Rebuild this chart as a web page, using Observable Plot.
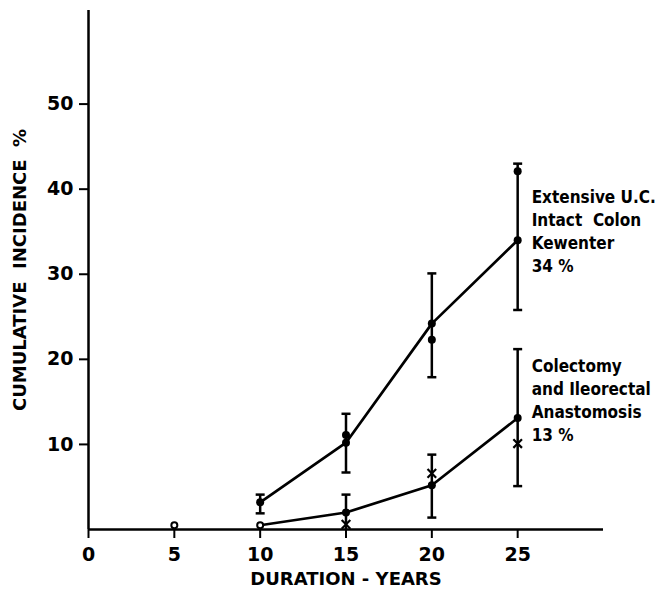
<!DOCTYPE html>
<html><head><meta charset="utf-8">
<script src="https://cdn.jsdelivr.net/npm/d3@7"></script>
<script src="https://cdn.jsdelivr.net/npm/@observablehq/plot@0.6"></script>
<style>body{margin:0;background:#fff}</style>
</head><body><div id="chart"></div>
<script>
// Extensive U.C., intact colon (Kewenter)
const intactYears = [10, 15, 20, 25];
const intactLine = [3.2, 10.2, 24.2, 34.0];
const intactLow = [1.9, 6.7, 17.9, 25.8];
const intactHigh = [4.1, 13.6, 30.1, 43.0];
const intactExtraYears = [15, 20, 25];
const intactExtra = [11.1, 22.3, 42.1];

// Colectomy and ileorectal anastomosis
const ileoYears = [10, 15, 20, 25];
const ileoLine = [0.5, 2.0, 5.2, 13.1];
const ileoBarYears = [15, 20, 25];
const ileoLow = [0, 1.4, 5.1];
const ileoHigh = [4.1, 8.8, 21.2];
const ileoDotYears = [15, 20, 25];
const ileoDots = [2.0, 5.2, 13.1];
const ileoCrossYears = [15, 20, 25];
const ileoCross = [0.6, 6.6, 10.1];
const openYears = [5, 10];
const openValues = [0.5, 0.5];

const xTicks = [0, 5, 10, 15, 20, 25];
const yTicks = [10, 20, 30, 40, 50];
const xLabel = "DURATION - YEARS";
const yLabel = "CUMULATIVE  INCIDENCE  %";
const annotations = [
  {x: 25, y: 35.2, text: "Extensive U.C.\nIntact  Colon\nKewenter\n34 %"},
  {x: 25, y: 15.3, text: "Colectomy\nand Ileorectal\nAnastomosis\n13 %"}
];

const zip = (xs, ys) => xs.map((x, i) => ({x, y: ys[i]}));
const intact = zip(intactYears, intactLine);
const intactBars = intactYears.map((x, i) => ({x, lo: intactLow[i], hi: intactHigh[i]}));
const ileo = zip(ileoYears, ileoLine);
const ileoBars = ileoBarYears.map((x, i) => ({x, lo: ileoLow[i], hi: ileoHigh[i]}));
const caps = [...intactBars, ...ileoBars].flatMap(d => [{x: d.x, y: d.lo}, {x: d.x, y: d.hi}]).filter(d => d.y > 0);
const opens = zip(openYears, openValues);

const capSymbol = {draw(ctx, size) { const r = Math.sqrt(size / Math.PI); ctx.moveTo(-r, 0); ctx.lineTo(r, 0); }};

const font = "DejaVu Sans";
const plot = Plot.plot({
  width: 658, height: 607,
  marginLeft: 88, marginRight: 55, marginTop: 10, marginBottom: 78,
  style: {fontFamily: font, fontSize: "19px", fontWeight: "bold", color: "#000", background: "#fff"},
  x: {domain: [0, 30]},
  y: {domain: [0, 61]},
  marks: [
    Plot.axisX({ticks: xTicks, tickSize: 9, tickPadding: 9, strokeWidth: 2, label: null, fontSize: 19}),
    Plot.axisY({ticks: yTicks, tickSize: 9, tickPadding: 6, strokeWidth: 2, label: null, fontSize: 19}),
    Plot.ruleX([0], {strokeWidth: 2.5}),
    Plot.ruleY([0], {strokeWidth: 2.5}),
    Plot.ruleX(opens, {x: "x", y1: 0, y2: "y", strokeWidth: 2}),
    Plot.ruleX(intactBars, {x: "x", y1: "lo", y2: "hi", strokeWidth: 2.5}),
    Plot.ruleX(ileoBars, {x: "x", y1: "lo", y2: "hi", strokeWidth: 2.5}),
    Plot.dot(caps, {x: "x", y: "y", symbol: capSymbol, r: 4.5, stroke: "#000", strokeWidth: 2.5}),
    Plot.line(intact, {x: "x", y: "y", strokeWidth: 2.7}),
    Plot.line(ileo, {x: "x", y: "y", strokeWidth: 2.7}),
    Plot.dot(intact, {x: "x", y: "y", r: 4, fill: "#000"}),
    Plot.dot(zip(intactExtraYears, intactExtra), {x: "x", y: "y", r: 4, fill: "#000"}),
    Plot.dot(zip(ileoDotYears, ileoDots), {x: "x", y: "y", r: 4, fill: "#000"}),
    Plot.dot(zip(ileoCrossYears, ileoCross), {x: "x", y: "y", symbol: "times", r: 4, stroke: "#000", strokeWidth: 2.2}),
    Plot.dot(opens, {x: "x", y: "y", r: 3, fill: "#fff", stroke: "#000", strokeWidth: 2}),
    Plot.text(annotations, {x: "x", y: "y", text: "text", dx: 14, textAnchor: "start", lineAnchor: "middle", lineHeight: 1.35, fontSize: 17, fontWeight: "bold", fontFamily: "DejaVu Sans Condensed, DejaVu Sans, sans-serif", fill: "#000"}),
    Plot.text([xLabel], {frameAnchor: "bottom", textAnchor: "middle", lineAnchor: "middle", dy: 50, fontSize: 18, fontWeight: "bold", fill: "#000"}),
    Plot.text([yLabel], {frameAnchor: "left", textAnchor: "middle", lineAnchor: "middle", rotate: -90, dx: -68, fontSize: 18, fontWeight: "bold", fill: "#000"})
  ]
});
document.getElementById("chart").appendChild(plot);
</script>
</body></html>
